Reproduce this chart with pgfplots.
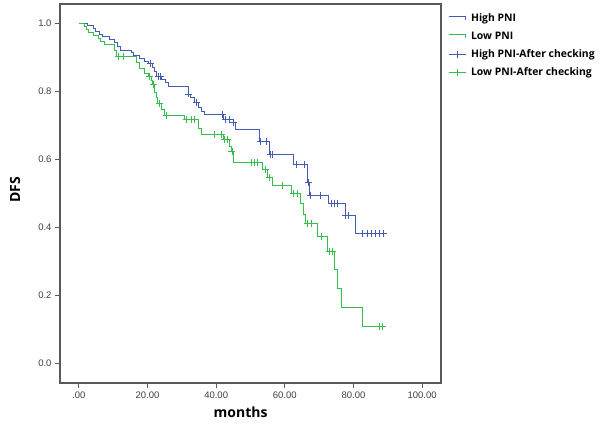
\documentclass[border=0pt]{standalone}
\usepackage{pgfplots}
\pgfplotsset{compat=1.18}
\usepackage{fontspec}
\setmainfont{Liberation Sans}
\newfontfamily\labfont{Open Sans}
\definecolor{kmblue}{RGB}{66,92,180}
\definecolor{kmgreen}{RGB}{52,190,76}
\pgfplotsset{
  stepblue/.style={legend image code/.code={\draw[kmblue,line width=0.9pt] (0pt,2pt) -- (17pt,2pt) -- (17pt,-2pt);}},
  stepgreen/.style={legend image code/.code={\draw[kmgreen,line width=0.9pt] (0pt,2pt) -- (17pt,2pt) -- (17pt,-2pt);}},
  censblue/.style={legend image code/.code={\draw[kmblue,line width=0.9pt] (0pt,0pt) -- (17pt,0pt); \draw[kmblue,line width=0.9pt] (8.5pt,-3.5pt) -- (8.5pt,3.5pt);}},
  censgreen/.style={legend image code/.code={\draw[kmgreen,line width=0.9pt] (0pt,0pt) -- (17pt,0pt); \draw[kmgreen,line width=0.9pt] (8.5pt,-3.5pt) -- (8.5pt,3.5pt);}},
}
\begin{document}
\begin{tikzpicture}[x=1pt,y=1pt]
\begin{axis}[
  at={(60pt,46pt)}, anchor=south west,
  scale only axis, width=381pt, height=379pt,
  xmin=-5.5, xmax=105.5, ymin=-0.058, ymax=1.058,
  axis line style={draw=black!65, line width=1.2pt},
  tick style={draw=black!65, line width=1.2pt},
  tick align=outside, major tick length=5pt,
  xtick pos=bottom, ytick pos=left,
  xtick={0,20,40,60,80,100},
  xticklabels={.00,20.00,40.00,60.00,80.00,100.00},
  ytick={0,0.2,0.4,0.6,0.8,1.0},
  yticklabels={0.0,0.2,0.4,0.6,0.8,1.0},
  ticklabel style={font=\fontsize{9.5}{11}\selectfont, text=black!75},
  xlabel={months}, ylabel={DFS},
  label style={font=\labfont\bfseries\fontsize{14}{16}\selectfont},
  xlabel style={at={(axis description cs:0.474,0)}, anchor=center, yshift=-29pt},
  ylabel style={at={(axis description cs:-0.118,0.509)}, anchor=center},
  legend style={at={(axis description cs:1,1)}, anchor=north west, xshift=7pt, yshift=-8pt,
    draw=none, fill=none, inner sep=0pt, row sep=5.5pt, column sep=4pt,
    font=\labfont\bfseries\fontsize{10.4}{12}\selectfont,
    nodes={text height=8pt, text depth=2.5pt, inner sep=1pt}},
  legend cell align=left,
]
\addlegendimage{stepblue}\addlegendentry{High PNI}
\addlegendimage{stepgreen}\addlegendentry{Low PNI}
\addlegendimage{censblue}\addlegendentry{High PNI-After checking}
\addlegendimage{censgreen}\addlegendentry{Low PNI-After checking}

\addplot[const plot, kmblue, line width=0.9pt, forget plot] coordinates {
(0,1.0)(2.4,0.994)(4.2,0.986)(4.9,0.977)(6.1,0.969)(6.9,0.961)(9.0,0.953)(10.5,0.944)(11.1,0.933)(12.1,0.921)(15.3,0.914)(16.0,0.906)(17.7,0.897)(19.2,0.889)(20.4,0.882)(21.4,0.870)(22.1,0.860)(22.6,0.845)(24.0,0.835)(25.3,0.826)(26.0,0.814)(31.8,0.793)(32.6,0.782)(33.7,0.767)(34.7,0.752)(35.7,0.742)(36.6,0.733)(42.2,0.717)(44.9,0.708)(45.6,0.689)(52.6,0.654)(55.5,0.614)(62.5,0.585)(66.6,0.532)(67.2,0.494)(72.7,0.471)(77.6,0.435)(80.5,0.383)(88.8,0.383)
};
\addplot[const plot, kmgreen, line width=0.9pt, forget plot] coordinates {
(0,1.0)(1.5,0.991)(2.2,0.983)(2.9,0.974)(4.2,0.966)(5.6,0.957)(6.4,0.948)(7.4,0.939)(10.3,0.920)(11.0,0.904)(16.8,0.885)(17.7,0.867)(19.2,0.853)(20.2,0.845)(21.0,0.834)(21.4,0.821)(22.0,0.798)(22.6,0.783)(23.0,0.766)(24.2,0.747)(25.0,0.730)(30.9,0.717)(34.7,0.693)(35.7,0.673)(42.0,0.659)(43.9,0.640)(44.4,0.624)(44.9,0.590)(53.6,0.571)(54.9,0.547)(56.4,0.524)(62.0,0.500)(64.5,0.471)(65.4,0.438)(66.0,0.411)(69.5,0.374)(72.5,0.330)(74.4,0.276)(75.3,0.221)(76.5,0.164)(82.6,0.108)(88.4,0.108)
};
\addplot[only marks, mark=+, mark size=3.5pt, kmblue, mark options={line width=0.9pt}, forget plot] coordinates {
(20.8,0.882)(23.1,0.845)(23.8,0.845)(32.0,0.793)(34.2,0.767)(41.8,0.733)(42.6,0.717)(43.9,0.717)(45.1,0.708)(52.8,0.654)(54.7,0.654)(55.7,0.614)(56.4,0.614)(63.4,0.585)(65.7,0.585)(66.9,0.532)(67.6,0.494)(70.3,0.494)(73.5,0.471)(74.4,0.471)(75.3,0.471)(77.8,0.435)(78.6,0.435)(82.6,0.383)(84.1,0.383)(85.3,0.383)(86.5,0.383)(87.7,0.383)(88.8,0.383)
};
\addplot[only marks, mark=+, mark size=3.5pt, kmgreen, mark options={line width=0.9pt}, forget plot] coordinates {
(11.6,0.904)(12.9,0.904)(20.6,0.845)(21.8,0.821)(23.5,0.766)(25.5,0.730)(31.3,0.717)(32.8,0.717)(33.7,0.717)(39.5,0.673)(41.5,0.673)(42.4,0.659)(43.4,0.659)(44.6,0.624)(50.2,0.590)(51.2,0.590)(52.1,0.590)(54.4,0.571)(55.5,0.547)(59.3,0.524)(62.5,0.500)(63.7,0.500)(66.6,0.411)(67.7,0.411)(70.6,0.374)(73.0,0.330)(73.8,0.330)(87.6,0.108)(88.4,0.108)
};
\end{axis}
\pgfresetboundingbox
\path[use as bounding box] (0pt,0pt) rectangle (600pt,429pt);
\end{tikzpicture}
\end{document}
